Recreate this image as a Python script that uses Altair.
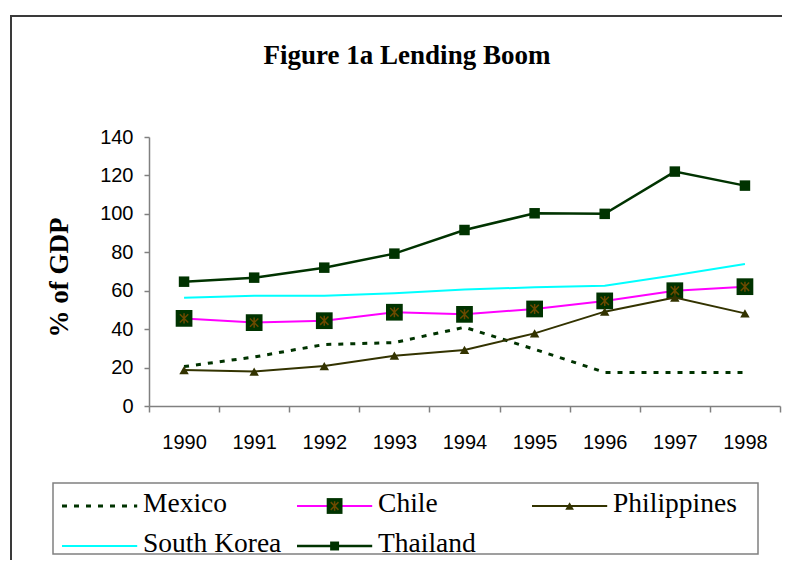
import altair as alt
import pandas as pd

years = [1990, 1991, 1992, 1993, 1994, 1995, 1996, 1997, 1998]
countries = ["Mexico", "Chile", "Philippines", "South Korea", "Thailand"]
mexico = [20.5, 25.5, 32.0, 33.0, 41.0, 29.5, 17.5, 17.5, 17.5]
chile = [45.6, 43.4, 44.4, 48.8, 47.7, 50.5, 54.7, 60.0, 62.1]
philippines = [18.7, 17.9, 20.8, 26.2, 29.2, 37.8, 49.1, 56.4, 48.2]
south_korea = [56.4, 57.4, 57.4, 58.7, 60.6, 61.8, 62.6, 68.0, 73.9]
thailand = [64.7, 66.8, 72.0, 79.3, 91.6, 100.3, 100.0, 122.0, 114.7]
y_ticks = [0, 20, 40, 60, 80, 100, 120, 140]

series = dict(zip(countries, [mexico, chile, philippines, south_korea, thailand]))
df = pd.DataFrame([{"country": c, "year": y, "value": v}
                   for c in countries for y, v in zip(years, series[c])])
leg_df = pd.DataFrame({"country": countries, "slot": list(range(len(countries)))})
one_row = pd.DataFrame({"k": [0]})

STYLE = {
    "Mexico": dict(color="#003300", width=3, dash=[5, 7]),
    "Chile": dict(color="#FF00FF", width=2, marker="square", msize=280, lsize=250,
                  mfill="#003300", star=True),
    "Philippines": dict(color="#333300", width=2, marker="triangle-up", msize=90,
                        lsize=75, mfill="#333300"),
    "South Korea": dict(color="#00FFFF", width=2),
    "Thailand": dict(color="#003300", width=2.5, marker="square", msize=110, lsize=80,
                     mfill="#003300"),
}
STAR = "M-1,-1L1,1M1,-1L-1,1M0,-1.2L0,1.2"

W, H = 774, 552

# main plot scales / axes
edges = [y - 0.5 for y in years] + [years[-1] + 0.5]
x_vals = sorted(edges + years)
x_scale = alt.Scale(domain=[years[0] - 0.5, years[-1] + 0.5], range=[141, 772])
y_scale = alt.Scale(domain=[0, 140], range=[398, 129])
x_axis = alt.Axis(
    values=x_vals, title=None, offset=-(H - 398), tickSize=6, labelPadding=20,
    labelExpr="datum.value % 1 == 0 ? format(datum.value, 'd') : ''",
    labelOverlap=False, labelFlush=False, grid=False,
    tickOpacity={"condition": {"test": "datum.value % 1 == 0", "value": 0}, "value": 1},
)
y_axis = alt.Axis(
    values=y_ticks, format="d", offset=-141, tickSize=5, labelPadding=11, grid=False,
    title="% of GDP", titleFont="Liberation Serif", titleFontSize=27,
    titleFontWeight="bold", titleColor="black", titleX=-90, titleY=269,
    titleAngle=-90, titleBaseline="middle", titleAlign="center",
)
x_enc = alt.X("year:Q", scale=x_scale, axis=x_axis)
y_enc = alt.Y("value:Q", scale=y_scale, axis=y_axis)

main_layers = []
for c in countries:
    st = STYLE[c]
    base = alt.Chart(df).transform_filter(alt.datum.country == c)
    line_kw = dict(color=st["color"], strokeWidth=st["width"])
    if "dash" in st:
        line_kw["strokeDash"] = st["dash"]
    main_layers.append(base.mark_line(**line_kw).encode(x=x_enc, y=y_enc))
    if "marker" in st:
        main_layers.append(base.mark_point(shape=st["marker"], size=st["msize"], filled=True,
                                           fill=st["mfill"], opacity=1, strokeWidth=0)
                           .encode(x=x_enc, y=y_enc))
    if st.get("star"):
        main_layers.append(base.mark_point(shape=STAR, size=70, filled=False, stroke="#6b4a00",
                                           strokeWidth=1.5, opacity=1)
                           .encode(x=x_enc, y=y_enc))
main = alt.layer(*main_layers)

# legend panel, drawn through its own scales
lx_scale = alt.Scale(domain=[0, 3], range=[54, 759])
ly_scale = alt.Scale(domain=[0, 1], range=[498, 538])
leg_base = alt.Chart(leg_df).transform_calculate(
    col="datum.slot % 3", row="floor(datum.slot / 3)",
    x0="datum.col", x1="datum.col + 0.32", xm="datum.col + 0.16", xt="datum.col + 0.345",
)
ly = alt.Y("row:Q", scale=ly_scale, axis=None)
leg_layers = []
for c in countries:
    st = STYLE[c]
    b = leg_base.transform_filter(alt.datum.country == c)
    rule_kw = dict(color=st["color"], strokeWidth=st["width"])
    if "dash" in st:
        rule_kw["strokeDash"] = st["dash"]
    leg_layers.append(b.mark_rule(**rule_kw).encode(
        x=alt.X("x0:Q", scale=lx_scale, axis=None), x2="x1:Q", y=ly))
    if "marker" in st:
        leg_layers.append(b.mark_point(shape=st["marker"], size=st["lsize"], filled=True,
                                       fill=st["mfill"], opacity=1, strokeWidth=0)
                          .encode(x=alt.X("xm:Q", scale=lx_scale, axis=None), y=ly))
    if st.get("star"):
        leg_layers.append(b.mark_point(shape=STAR, size=60, filled=False, stroke="#6b4a00",
                                       strokeWidth=1.5, opacity=1)
                          .encode(x=alt.X("xm:Q", scale=lx_scale, axis=None), y=ly))
leg_layers.append(leg_base.mark_text(align="left", baseline="middle", font="Liberation Serif",
                                     fontSize=27.5, color="black", dy=-2)
                  .encode(x=alt.X("xt:Q", scale=lx_scale, axis=None), y=ly, text="country:N"))
legend = alt.layer(*leg_layers)

frame_top = alt.Chart(one_row).mark_rule(color="#3a3a3a", strokeWidth=2).encode(
    x=alt.value(2), x2=alt.value(W), y=alt.value(8))
frame_left = alt.Chart(one_row).mark_rule(color="#3a3a3a", strokeWidth=2).encode(
    x=alt.value(3), y=alt.value(7), y2=alt.value(H))
legend_box = alt.Chart(one_row).mark_rect(fillOpacity=0, stroke="#808080", strokeWidth=1.5).encode(
    x=alt.value(45), y=alt.value(475), x2=alt.value(750), y2=alt.value(H - 6))

chart = alt.layer(frame_top, frame_left, legend_box, main, legend).resolve_scale(
    x="independent", y="independent"
).properties(
    width=W, height=H, padding=0, background="white",
    view=alt.ViewBackground(stroke="transparent"),
    autosize=alt.AutoSizeParams(type="none"),
    title=alt.TitleParams("Figure 1a Lending Boom", font="Liberation Serif", fontSize=27,
                          fontWeight="bold", color="black", anchor="middle", frame="group",
                          orient="top", offset=-83, baseline="alphabetic", dx=12),
).configure_view(strokeOpacity=0).configure_axis(
    grid=False, domainColor="#808080", tickColor="#808080", domainWidth=1.5, tickWidth=1.5,
    labelFont="Liberation Sans", labelFontSize=20, labelColor="black",
)

chart.save("out.html", embed_options={"renderer": "svg", "actions": False})
